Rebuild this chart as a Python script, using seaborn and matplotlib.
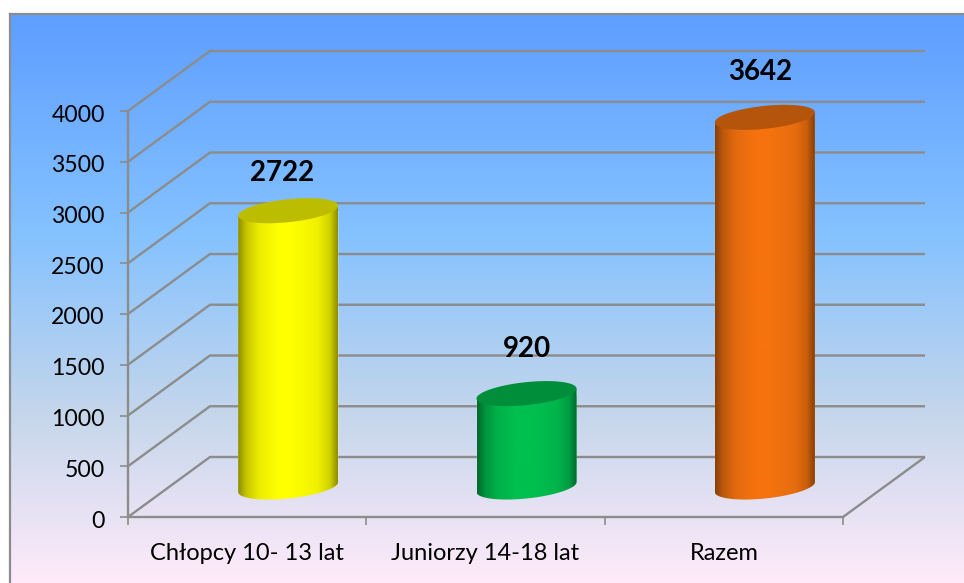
import numpy as np
import pandas as pd
import matplotlib
matplotlib.use("Agg")
import matplotlib.pyplot as plt
from matplotlib.colors import LinearSegmentedColormap, to_rgb
from matplotlib.patches import Polygon
from matplotlib.transforms import Affine2D
import seaborn as sns

categories = ["Chłopcy 10- 13 lat", "Juniorzy 14-18 lat", "Razem"]
values = [2722, 920, 3642]
bar_colors = ["#FFFF00", "#00C050", "#F5730F"]
y_ticks = [0, 500, 1000, 1500, 2000, 2500, 3000, 3500, 4000]
label_offsets_px = [(-6, 38), (1, 45), (-5, 45)]

sns.set_theme(style="white")
plt.rcParams["font.family"] = ["Lato", "DejaVu Sans"]

W, H = 964, 583
GRAY = "#8C8C8C"
fig = plt.figure(figsize=(W / 100, H / 100), dpi=100, facecolor="white")


def axes_px(x0, x1, y_top, y_bot):
    return [x0 / W, 1 - y_bot / H, (x1 - x0) / W, (y_bot - y_top) / H]


# Chart-area background
bg = fig.add_axes(axes_px(10, W, 14, H), zorder=0)
cmap = LinearSegmentedColormap.from_list(
    "daybreak",
    [(0, "#5E9EFF"), (0.39, "#85C2FF"), (0.70, "#C4D6EB"), (1, "#FFEBFA")],
)
bg.imshow(np.linspace(0, 1, 512).reshape(-1, 1), cmap=cmap, aspect="auto",
          extent=(0, 1, 0, 1), vmin=0, vmax=1)
bg.set_xticks([])
bg.set_yticks([])
for side in ("right", "bottom"):
    bg.spines[side].set_visible(False)
for side in ("left", "top"):
    bg.spines[side].set_color(GRAY)
    bg.spines[side].set_linewidth(1.6)

# Front plane of the 3D box
X0, X1, Y4000, Y0 = 128, 843, 111, 517
ax = fig.add_axes(axes_px(X0, X1, Y4000, Y0), zorder=1)
ax.patch.set_visible(False)

df = pd.DataFrame({"category": categories, "value": values})
sns.barplot(data=df, x="category", y="value", hue="category",
            palette=bar_colors, order=categories, hue_order=categories,
            width=100 / ((X1 - X0) / 3), dodge=False, legend=False,
            saturation=1, ax=ax, zorder=3)

ax.set_xlim(-0.5, 2.5)
ax.set_ylim(0, 4000)
px_x = (X1 - X0) / 3       # pixels per category
px_y = (Y0 - Y4000) / 4000  # pixels per value unit
dx, dy = 82 / px_x, 60 / px_y

# Walls and floor
line_kw = dict(color=GRAY, lw=1.7, clip_on=False, zorder=1,
               solid_joinstyle="miter", solid_capstyle="butt")
for v in y_ticks:
    ax.plot([-0.5, -0.5 + dx, 2.5 + dx], [v, v + dy, v + dy], **line_kw)
ax.plot([2.5, 2.5 + dx], [0, dy], **line_kw)

# Cylinders: bars shifted to mid-depth and shaded
half_w = ax.patches[0].get_width() / 2
sx, sy = 5 / px_y, 11.5 / px_y
stops_pos = [0, 0.08, 0.2, 0.4, 0.55, 0.8, 0.92, 1]
stops_val = [0.55, 0.77, 0.92, 1, 1, 0.94, 0.82, 0.55]
shade = np.interp(np.linspace(0, 1, 300), stops_pos, stops_val)
top_t = np.linspace(0, 2 * np.pi, 180)
bot_t = np.linspace(0, -np.pi, 90)

for i, (bar, val, col) in enumerate(zip(ax.patches, values, bar_colors)):
    cx = i + dx / 2
    base = dy / 2
    bar.set_x(cx - half_w)
    bar.set_y(base)
    top = base + val
    outline = [(cx - half_w, top - sx), (cx + half_w, top + sx)]
    outline += [(cx + half_w * np.cos(t), base + sx * np.cos(t) + sy * np.sin(t)) for t in bot_t]
    clip = Polygon(outline, closed=True, transform=ax.transData)
    bar.set_clip_box(fig.bbox)
    bar.set_clip_path(clip)
    rgb = np.array(to_rgb(col))
    grad = (shade[None, :, None] * rgb[None, None, :])
    im = ax.imshow(grad, aspect="auto", zorder=4,
                   extent=(cx - half_w, cx + half_w, base - 200, top + 200))
    im.set_clip_box(fig.bbox)
    im.set_clip_path(clip)
    cap = [(cx + half_w * np.cos(t), top + sx * np.cos(t) + sy * np.sin(t)) for t in top_t]
    ax.add_patch(Polygon(cap, closed=True, facecolor=tuple(rgb * 0.74), edgecolor="none",
                         clip_on=False, zorder=5))
    ox, oy = label_offsets_px[i]
    ax.text(cx + ox / px_x, top + oy / px_y, str(val), ha="center", va="center",
            fontsize=20, fontweight="bold", color="black", clip_on=False, zorder=6)

ax.set_xlim(-0.5, 2.5)
ax.set_ylim(0, 4000)

# Axes styling
sns.despine(ax=ax)
for side in ("left", "bottom"):
    ax.spines[side].set_color(GRAY)
    ax.spines[side].set_linewidth(1.7)
ax.set_xlabel("")
ax.set_ylabel("")
ax.set_yticks(y_ticks)
ax.set_xticks([-0.5, 0.5, 1.5, 2.5], labels=[])
ax.set_xticks([0, 1, 2], labels=categories, minor=True)
ax.tick_params(axis="x", which="major", length=5.8, width=1.2, color=GRAY, bottom=True)
ax.tick_params(axis="x", which="minor", length=0, pad=19, labelsize=17, labelcolor="black", bottom=True)
ax.tick_params(axis="y", length=5.8, width=1.2, color=GRAY, pad=11, labelsize=16.6, labelcolor="black", left=True)
for lab in ax.get_yticklabels():
    lab.set_transform(lab.get_transform() + Affine2D().translate(0, -2))

fig.savefig("out.png", dpi=100, facecolor="white")
